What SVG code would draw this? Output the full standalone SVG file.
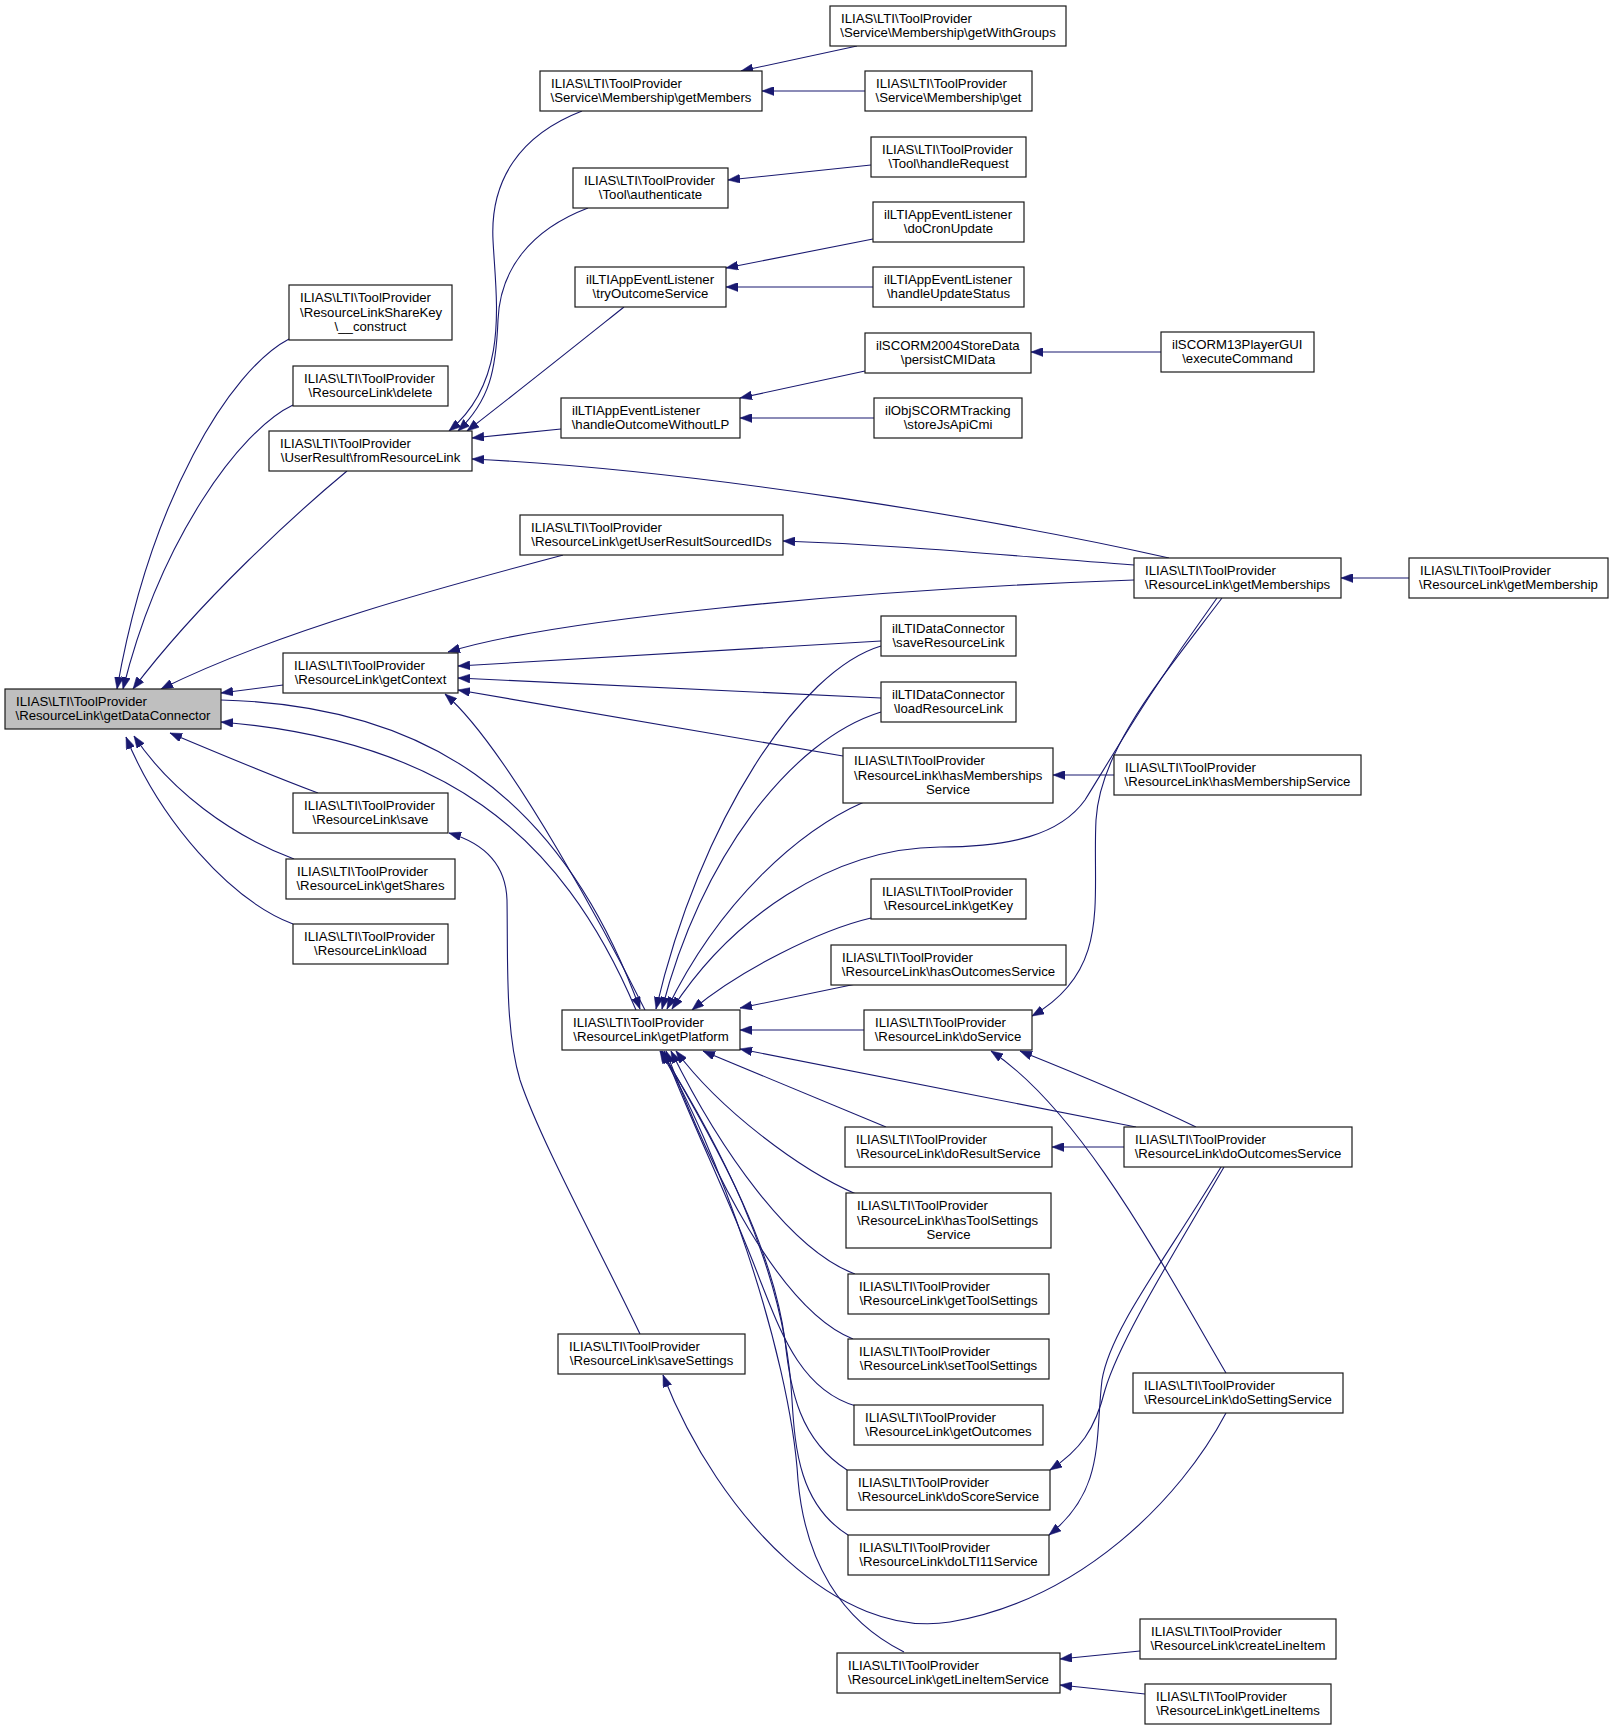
<svg xmlns="http://www.w3.org/2000/svg" width="1613" height="1731" viewBox="0 0 1613 1731">
<style>
.node rect{fill:#ffffff;stroke:#1a1a1a;stroke-width:1.2}
.node.root rect{fill:#bfbfbf}
.node text{font-family:"Liberation Sans",Arial,Helvetica,sans-serif;font-size:13.2px;fill:#000000}
.node text.c{text-anchor:middle}
.edges path{fill:none;stroke:#191970;stroke-width:1.1;marker-end:url(#arr)}
</style>
<defs>
<marker id="arr" viewBox="0 0 12 9" markerWidth="12" markerHeight="9" markerUnits="userSpaceOnUse" refX="12" refY="4.5" orient="auto">
<path d="M0,0 L12,4.5 L0,9 Z" fill="#191970" stroke="#191970" stroke-width="0.5"/>
</marker>
</defs>
<rect x="0" y="0" width="1613" height="1731" fill="#ffffff"/>
<g class="edges">
<path d="M289,339 C230,370 150,500 117,689"/>
<path d="M293,405 C240,430 160,540 123,689"/>
<path d="M347,471 C300,510 200,600 133,689"/>
<path d="M563,555 C450,585 280,630 161,689"/>
<path d="M283,685 L221,693"/>
<path d="M221,700 C420,705 560,790 640,1009"/>
<path d="M636,1010 C560,830 440,740 221,722"/>
<path d="M645,1010 C615,950 510,750 445,694"/>
<path d="M318,793 C270,775 215,752 170,733"/>
<path d="M294,859 C230,835 170,790 134,736"/>
<path d="M293,924 C230,900 160,820 126,737"/>
<path d="M582,111 C520,135 490,180 493,240 C496,300 510,380 449,431"/>
<path d="M588,208 C530,230 500,270 498,320 C496,370 490,400 458,431"/>
<path d="M624,307 C570,350 520,390 467,431"/>
<path d="M561,429 L472,438"/>
<path d="M1169,558 C1000,520 700,470 472,459"/>
<path d="M857,46 L741,71"/>
<path d="M865,91 L762,91"/>
<path d="M871,165 L728,180"/>
<path d="M873,239 L726,268"/>
<path d="M873,287 L726,287"/>
<path d="M865,371 L740,398"/>
<path d="M874,418 L740,418"/>
<path d="M1161,352 L1031,352"/>
<path d="M1134,565 C1000,555 900,545 783,541"/>
<path d="M1409,578 L1341,578"/>
<path d="M1134,580 C850,590 550,620 448,652"/>
<path d="M881,641 L458,666"/>
<path d="M881,698 L458,678"/>
<path d="M843,756 L458,690"/>
<path d="M881,646 C800,670 700,820 656,1009"/>
<path d="M881,712 C790,740 700,860 662,1009"/>
<path d="M864,802 C800,830 720,900 667,1009"/>
<path d="M1217,598 C1150,690 1110,760 1085,800 C1060,835 1010,847 940,847 C830,848 730,920 672,1009"/>
<path d="M1222,598 C1160,680 1100,750 1096,820 C1092,900 1112,970 1032,1016"/>
<path d="M871,918 C820,930 740,970 692,1010"/>
<path d="M856,984 L740,1008"/>
<path d="M864,1030 L740,1030"/>
<path d="M1136,1127 L740,1049"/>
<path d="M886,1127 L703,1051"/>
<path d="M856,1194 C800,1170 720,1110 676,1051"/>
<path d="M855,1274 C790,1250 720,1150 671,1051"/>
<path d="M853,1339 C780,1310 710,1170 666,1051"/>
<path d="M856,1406 C800,1390 780,1330 760,1280 C730,1200 690,1120 664,1051"/>
<path d="M847,1470 C800,1440 790,1390 785,1340 C770,1230 700,1120 662,1051"/>
<path d="M848,1535 C800,1505 795,1450 792,1400 C785,1260 710,1130 661,1051"/>
<path d="M904,1652 C840,1620 805,1560 798,1480 C790,1350 715,1140 660,1051"/>
<path d="M640,1334 C600,1250 540,1140 520,1080 C505,1030 508,960 507,900 C506,870 490,845 449,833"/>
<path d="M1226,1413 C1180,1500 1080,1600 950,1622 C840,1640 720,1520 663,1375"/>
<path d="M1226,1373 C1160,1260 1080,1110 991,1051"/>
<path d="M1196,1127 C1140,1100 1080,1075 1020,1051"/>
<path d="M1124,1147 L1052,1147"/>
<path d="M1224,1167 C1170,1260 1120,1340 1105,1390 C1095,1430 1080,1450 1050,1470"/>
<path d="M1221,1167 C1165,1260 1110,1330 1102,1380 C1095,1440 1105,1490 1049,1535"/>
<path d="M1140,1651 L1060,1659"/>
<path d="M1145,1694 L1060,1685"/>
<path d="M1114,775 L1053,775"/>
</g>
<g id="n_getDataConnector" class="node root"><rect x="5" y="689" width="216" height="40"/><text x="16" y="706">ILIAS\LTI\ToolProvider</text><text class="c" x="113" y="720">\ResourceLink\getDataConnector</text></g>
<g id="n_shareKeyConstruct" class="node"><rect x="289" y="285" width="163" height="55"/><text x="300" y="302">ILIAS\LTI\ToolProvider</text><text x="300" y="316.5">\ResourceLinkShareKey</text><text class="c" x="370.5" y="331">\__construct</text></g>
<g id="n_delete" class="node"><rect x="293" y="366" width="155" height="40"/><text x="304" y="383">ILIAS\LTI\ToolProvider</text><text class="c" x="370.5" y="397">\ResourceLink\delete</text></g>
<g id="n_fromResourceLink" class="node"><rect x="269" y="431" width="203" height="40"/><text x="280" y="448">ILIAS\LTI\ToolProvider</text><text class="c" x="370.5" y="462">\UserResult\fromResourceLink</text></g>
<g id="n_getUserResultSourcedIDs" class="node"><rect x="520" y="515" width="263" height="40"/><text x="531" y="532">ILIAS\LTI\ToolProvider</text><text class="c" x="651.5" y="546">\ResourceLink\getUserResultSourcedIDs</text></g>
<g id="n_getContext" class="node"><rect x="283" y="653" width="175" height="40"/><text x="294" y="670">ILIAS\LTI\ToolProvider</text><text class="c" x="370.5" y="684">\ResourceLink\getContext</text></g>
<g id="n_save" class="node"><rect x="293" y="793" width="155" height="40"/><text x="304" y="810">ILIAS\LTI\ToolProvider</text><text class="c" x="370.5" y="824">\ResourceLink\save</text></g>
<g id="n_getShares" class="node"><rect x="286" y="859" width="169" height="40"/><text x="297" y="876">ILIAS\LTI\ToolProvider</text><text class="c" x="370.5" y="890">\ResourceLink\getShares</text></g>
<g id="n_load" class="node"><rect x="293" y="924" width="155" height="40"/><text x="304" y="941">ILIAS\LTI\ToolProvider</text><text class="c" x="370.5" y="955">\ResourceLink\load</text></g>
<g id="n_getMembers" class="node"><rect x="540" y="71" width="222" height="40"/><text x="551" y="88">ILIAS\LTI\ToolProvider</text><text class="c" x="651" y="102">\Service\Membership\getMembers</text></g>
<g id="n_authenticate" class="node"><rect x="573" y="168" width="155" height="40"/><text x="584" y="185">ILIAS\LTI\ToolProvider</text><text class="c" x="650.5" y="199">\Tool\authenticate</text></g>
<g id="n_tryOutcomeService" class="node"><rect x="575" y="267" width="151" height="40"/><text x="586" y="284">ilLTIAppEventListener</text><text class="c" x="650.5" y="298">\tryOutcomeService</text></g>
<g id="n_handleOutcomeWithoutLP" class="node"><rect x="561" y="398" width="179" height="40"/><text x="572" y="415">ilLTIAppEventListener</text><text class="c" x="650.5" y="429">\handleOutcomeWithoutLP</text></g>
<g id="n_getPlatform" class="node"><rect x="562" y="1010" width="178" height="40"/><text x="573" y="1027">ILIAS\LTI\ToolProvider</text><text class="c" x="651" y="1041">\ResourceLink\getPlatform</text></g>
<g id="n_saveSettings" class="node"><rect x="558" y="1334" width="187" height="40"/><text x="569" y="1351">ILIAS\LTI\ToolProvider</text><text class="c" x="651.5" y="1365">\ResourceLink\saveSettings</text></g>
<g id="n_getWithGroups" class="node"><rect x="830" y="6" width="236" height="40"/><text x="841" y="23">ILIAS\LTI\ToolProvider</text><text class="c" x="948" y="37">\Service\Membership\getWithGroups</text></g>
<g id="n_membershipGet" class="node"><rect x="865" y="71" width="167" height="40"/><text x="876" y="88">ILIAS\LTI\ToolProvider</text><text class="c" x="948.5" y="102">\Service\Membership\get</text></g>
<g id="n_handleRequest" class="node"><rect x="871" y="137" width="155" height="40"/><text x="882" y="154">ILIAS\LTI\ToolProvider</text><text class="c" x="948.5" y="168">\Tool\handleRequest</text></g>
<g id="n_doCronUpdate" class="node"><rect x="873" y="202" width="151" height="40"/><text x="884" y="219">ilLTIAppEventListener</text><text class="c" x="948.5" y="233">\doCronUpdate</text></g>
<g id="n_handleUpdateStatus" class="node"><rect x="873" y="267" width="151" height="40"/><text x="884" y="284">ilLTIAppEventListener</text><text class="c" x="948.5" y="298">\handleUpdateStatus</text></g>
<g id="n_persistCMIData" class="node"><rect x="865" y="333" width="166" height="40"/><text x="876" y="350">ilSCORM2004StoreData</text><text class="c" x="948" y="364">\persistCMIData</text></g>
<g id="n_storeJsApiCmi" class="node"><rect x="874" y="398" width="148" height="40"/><text x="885" y="415">ilObjSCORMTracking</text><text class="c" x="948" y="429">\storeJsApiCmi</text></g>
<g id="n_saveResourceLink" class="node"><rect x="881" y="616" width="135" height="40"/><text x="892" y="633">ilLTIDataConnector</text><text class="c" x="948.5" y="647">\saveResourceLink</text></g>
<g id="n_loadResourceLink" class="node"><rect x="881" y="682" width="135" height="40"/><text x="892" y="699">ilLTIDataConnector</text><text class="c" x="948.5" y="713">\loadResourceLink</text></g>
<g id="n_hasMembershipsService" class="node"><rect x="843" y="748" width="210" height="55"/><text x="854" y="765">ILIAS\LTI\ToolProvider</text><text x="854" y="779.5">\ResourceLink\hasMemberships</text><text class="c" x="948" y="794">Service</text></g>
<g id="n_getKey" class="node"><rect x="871" y="879" width="155" height="40"/><text x="882" y="896">ILIAS\LTI\ToolProvider</text><text class="c" x="948.5" y="910">\ResourceLink\getKey</text></g>
<g id="n_hasOutcomesService" class="node"><rect x="831" y="945" width="235" height="40"/><text x="842" y="962">ILIAS\LTI\ToolProvider</text><text class="c" x="948.5" y="976">\ResourceLink\hasOutcomesService</text></g>
<g id="n_doService" class="node"><rect x="864" y="1010" width="168" height="40"/><text x="875" y="1027">ILIAS\LTI\ToolProvider</text><text class="c" x="948" y="1041">\ResourceLink\doService</text></g>
<g id="n_doResultService" class="node"><rect x="845" y="1127" width="207" height="40"/><text x="856" y="1144">ILIAS\LTI\ToolProvider</text><text class="c" x="948.5" y="1158">\ResourceLink\doResultService</text></g>
<g id="n_hasToolSettingsService" class="node"><rect x="846" y="1193" width="205" height="55"/><text x="857" y="1210">ILIAS\LTI\ToolProvider</text><text x="857" y="1224.5">\ResourceLink\hasToolSettings</text><text class="c" x="948.5" y="1239">Service</text></g>
<g id="n_getToolSettings" class="node"><rect x="848" y="1274" width="201" height="40"/><text x="859" y="1291">ILIAS\LTI\ToolProvider</text><text class="c" x="948.5" y="1305">\ResourceLink\getToolSettings</text></g>
<g id="n_setToolSettings" class="node"><rect x="848" y="1339" width="201" height="40"/><text x="859" y="1356">ILIAS\LTI\ToolProvider</text><text class="c" x="948.5" y="1370">\ResourceLink\setToolSettings</text></g>
<g id="n_getOutcomes" class="node"><rect x="854" y="1405" width="189" height="40"/><text x="865" y="1422">ILIAS\LTI\ToolProvider</text><text class="c" x="948.5" y="1436">\ResourceLink\getOutcomes</text></g>
<g id="n_doScoreService" class="node"><rect x="847" y="1470" width="203" height="40"/><text x="858" y="1487">ILIAS\LTI\ToolProvider</text><text class="c" x="948.5" y="1501">\ResourceLink\doScoreService</text></g>
<g id="n_doLTI11Service" class="node"><rect x="848" y="1535" width="201" height="40"/><text x="859" y="1552">ILIAS\LTI\ToolProvider</text><text class="c" x="948.5" y="1566">\ResourceLink\doLTI11Service</text></g>
<g id="n_getLineItemService" class="node"><rect x="837" y="1653" width="223" height="40"/><text x="848" y="1670">ILIAS\LTI\ToolProvider</text><text class="c" x="948.5" y="1684">\ResourceLink\getLineItemService</text></g>
<g id="n_executeCommand" class="node"><rect x="1161" y="332" width="153" height="40"/><text x="1172" y="349">ilSCORM13PlayerGUI</text><text class="c" x="1237.5" y="363">\executeCommand</text></g>
<g id="n_getMemberships" class="node"><rect x="1134" y="558" width="207" height="40"/><text x="1145" y="575">ILIAS\LTI\ToolProvider</text><text class="c" x="1237.5" y="589">\ResourceLink\getMemberships</text></g>
<g id="n_hasMembershipService" class="node"><rect x="1114" y="755" width="247" height="40"/><text x="1125" y="772">ILIAS\LTI\ToolProvider</text><text class="c" x="1237.5" y="786">\ResourceLink\hasMembershipService</text></g>
<g id="n_doOutcomesService" class="node"><rect x="1124" y="1127" width="228" height="40"/><text x="1135" y="1144">ILIAS\LTI\ToolProvider</text><text class="c" x="1238" y="1158">\ResourceLink\doOutcomesService</text></g>
<g id="n_doSettingService" class="node"><rect x="1133" y="1373" width="210" height="40"/><text x="1144" y="1390">ILIAS\LTI\ToolProvider</text><text class="c" x="1238" y="1404">\ResourceLink\doSettingService</text></g>
<g id="n_createLineItem" class="node"><rect x="1140" y="1619" width="196" height="40"/><text x="1151" y="1636">ILIAS\LTI\ToolProvider</text><text class="c" x="1238" y="1650">\ResourceLink\createLineItem</text></g>
<g id="n_getLineItems" class="node"><rect x="1145" y="1684" width="186" height="40"/><text x="1156" y="1701">ILIAS\LTI\ToolProvider</text><text class="c" x="1238" y="1715">\ResourceLink\getLineItems</text></g>
<g id="n_getMembership" class="node"><rect x="1409" y="558" width="199" height="40"/><text x="1420" y="575">ILIAS\LTI\ToolProvider</text><text class="c" x="1508.5" y="589">\ResourceLink\getMembership</text></g>
</svg>
